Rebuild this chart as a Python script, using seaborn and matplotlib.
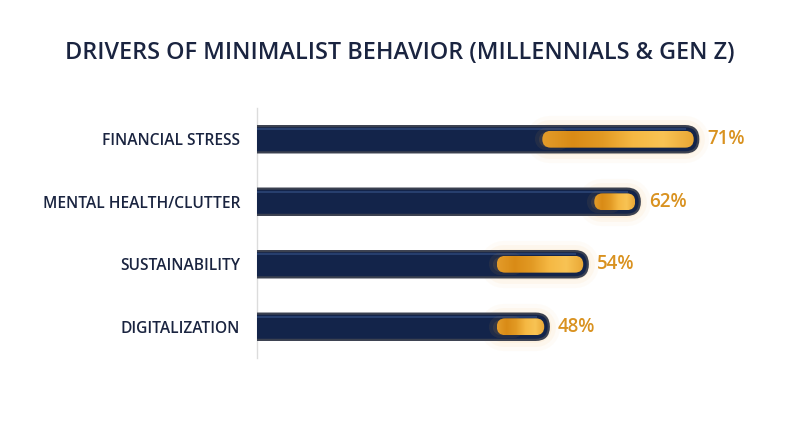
import numpy as np
import pandas as pd
import matplotlib
matplotlib.use('Agg')
import matplotlib.pyplot as plt
from matplotlib.patches import FancyBboxPatch
import seaborn as sns

# chart data
drivers = ['FINANCIAL STRESS', 'MENTAL HEALTH/CLUTTER', 'SUSTAINABILITY', 'DIGITALIZATION']
share = [71, 62, 54, 48]
# where the orange glow segment starts on each bar (in %)
glow_from = [47, 55, 40, 40]

navy = '#13244a'
orange = '#d99220'
text_navy = '#1a2440'

df = pd.DataFrame({'driver': drivers, 'share': share})

sns.set_theme(style='white')
plt.rcParams['font.family'] = ['Open Sans', 'DejaVu Sans']

fig = plt.figure(figsize=(8, 4.47), dpi=100)
ax = fig.add_axes([257 / 800, 1 - 358 / 447, (760 - 257) / 800, 250 / 447])

sns.barplot(data=df, x='share', y='driver', orient='h', color=navy, width=0.42, ax=ax)

x0, x1 = 3.1, 80.5
ax.set_xlim(x0, x1)
ax.set_ylim(3.5, -0.5)

# px per data unit, used for rounding the ends
fig.canvas.draw()
bb = ax.get_window_extent()
px_x = bb.width / (x1 - x0)
px_y = bb.height / 4.0

cmap = matplotlib.colors.LinearSegmentedColormap.from_list(
    'g', ['#e39c2a', '#d98b16', '#e29a24', '#f5b843', '#f8c354', '#e9a735'])
grad = np.linspace(0, 1, 200)

bars = list(ax.patches)
for i, p in enumerate(bars):
    p.set_visible(False)
    x, y, w, h = p.get_x(), p.get_y(), p.get_width(), p.get_height()
    r = h * px_y / 2 / px_x  # radius in x units
    asp = (h / 2) / r
    body = FancyBboxPatch((x - 10, y), w + 10, h,
                          boxstyle=f'round,pad=0,rounding_size={r}',
                          mutation_aspect=asp, fc=navy, ec='#3b4150', lw=1.6, zorder=3)
    ax.add_patch(body)
    # light line along the top of the bar
    ax.plot([x0, w - r * 0.9], [y + h * 0.12, y + h * 0.12], color='#2c4576', lw=1.2,
            zorder=4, solid_capstyle='butt')

    # glow behind the bar end
    cy = y + h / 2
    gs = glow_from[i]
    for k, a in zip([34, 28, 22], [0.04, 0.06, 0.08]):
        ax.plot([gs + 1, w - 2], [cy, cy], color='#f5b04a', lw=k, alpha=a,
                solid_capstyle='round', zorder=2)

    # orange inner segment with gradient
    ih = h * 0.64
    iy = cy - ih / 2
    ir = ih * px_y / 2 / px_x
    inner = FancyBboxPatch((gs, iy), (w - 0.7) - gs, ih,
                           boxstyle=f'round,pad=0,rounding_size={ir}',
                           mutation_aspect=(ih / 2) / ir, fc='none', ec='none', zorder=5)
    ax.add_patch(inner)
    im = ax.imshow(grad[None, :], extent=(gs, w - 0.7, iy + ih, iy), cmap=cmap,
                   aspect='auto', zorder=5, interpolation='bilinear')
    im.set_clip_path(inner)
    # soft glow at the left edge of the segment
    for k, a in zip([16, 11], [0.07, 0.10]):
        ax.plot([gs + 0.5, gs + 2.5], [cy, cy], color='#f2a93a', lw=k, alpha=a,
                solid_capstyle='round', zorder=4.5)

    ax.text(w + 1.4, cy, f'{share[i]}%', va='center', ha='left', color=orange,
            fontsize=13.5, fontweight='semibold', zorder=6)

ax.set_xlim(x0, x1)
ax.set_ylim(3.5, -0.5)
ax.set_xlabel('')
ax.set_ylabel('')
ax.set_xticks([])
ax.tick_params(axis='y', length=0, pad=12)
for lab in ax.get_yticklabels():
    lab.set_fontsize(11.2)
    lab.set_fontweight('semibold')
    lab.set_color(text_navy)
for s in ['top', 'right', 'bottom']:
    ax.spines[s].set_visible(False)
ax.spines['left'].set_color('#dcdcdc')
ax.spines['left'].set_linewidth(1)

fig.text(0.5, 1 - 53 / 447, 'DRIVERS OF MINIMALIST BEHAVIOR (MILLENNIALS & GEN Z)',
         ha='center', va='center', fontsize=16.8, fontweight='semibold', color=text_navy)

fig.savefig('out.png', dpi=100, facecolor='white')
